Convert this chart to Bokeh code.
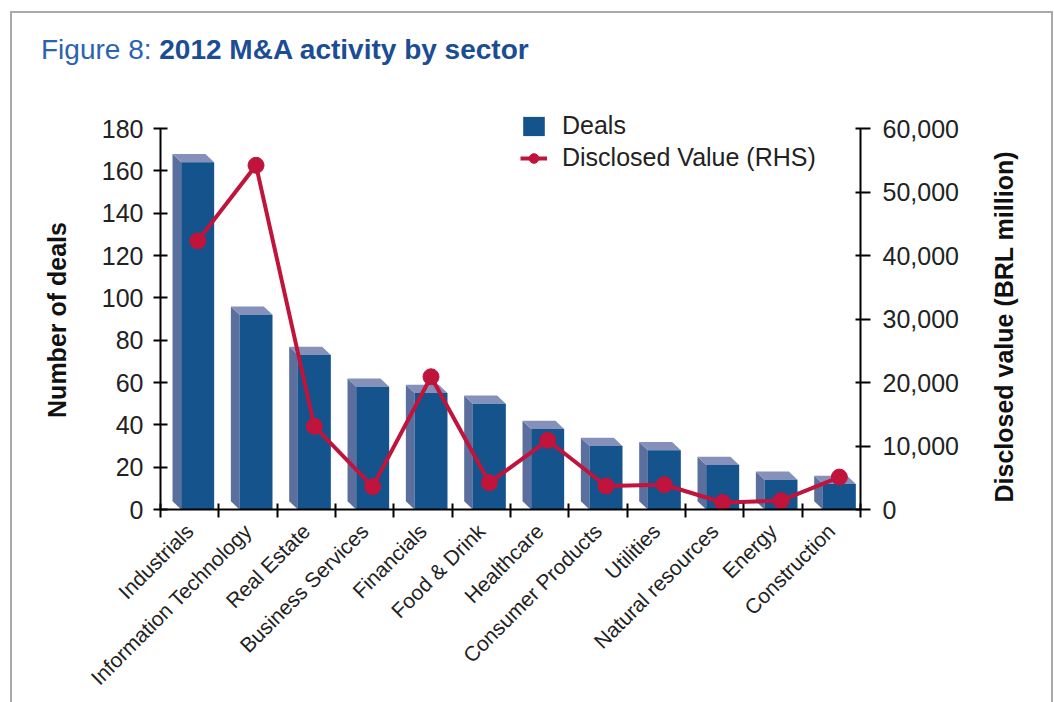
import math
from bokeh.plotting import figure
from bokeh.layouts import column, row
from bokeh.models import (Range1d, LinearAxis, FixedTicker, NumeralTickFormatter,
                          Legend, LegendItem, ColumnDataSource, Div)
from bokeh.embed import file_html
from bokeh.resources import INLINE

# ---------------- data ----------------
sectors = ["Industrials", "Information Technology", "Real Estate", "Business Services",
           "Financials", "Food & Drink", "Healthcare", "Consumer Products", "Utilities",
           "Natural resources", "Energy", "Construction"]
deals = [164, 92, 73, 58, 55, 50, 38, 30, 28, 21, 14, 12]
disclosed_value = [42300, 54200, 13100, 3600, 20900, 4200, 10900, 3700, 3900, 1100, 1400, 5100]
left_ticks = [0, 20, 40, 60, 80, 100, 120, 140, 160, 180]
right_ticks = [0, 10000, 20000, 30000, 40000, 50000, 60000]
title_light = "Figure 8:"
title_bold = "2012 M&A activity by sector"
left_title = "Number of deals"
right_title = "Disclosed value (BRL million)"

# ---------------- style ----------------
FONT = "Liberation Sans"
FRONT = "#14538b"
SIDE = "#5b6f9f"
TOP = "#8591ba"
LINE = "#c0143c"
FRONT_OFF = 0.1375   # front face centre offset from category centre
FRONT_W = 0.565
DX = 0.149           # 3D depth (category units)
DY = 3.9             # 3D depth (deal units)

idx = list(range(len(sectors)))
xc = [i + FRONT_OFF for i in idx]
x0 = [c - FRONT_W / 2 for c in xc]
x1 = [c + FRONT_W / 2 for c in xc]

side_xs = [[a, a, a - DX, a - DX] for a in x0]
side_ys = [[0, v, v + DY, DY] for v in deals]
top_xs = [[a, b, b - DX, a - DX] for a, b in zip(x0, x1)]
top_ys = [[v, v, v + DY, v + DY] for v in deals]

# layout geometry (pixels)
CW = 1039            # inner content width
DIV_H = 80
FIG_H = 609
LW, FW, RW = 60, 903, 76
MB_LEFT, MB_RIGHT = 88, 115
MB_TOP, MB_BOT = 5, 193
FRAME_H = FIG_H - MB_TOP - MB_BOT     # 381 px correspond to 0..180
Y_END = 180 * FRAME_H / 381
R_END = 60000 * FRAME_H / 381

p = figure(width=FW, height=FIG_H, x_range=Range1d(-0.5, 11.5), y_range=Range1d(0, Y_END),
           output_backend="svg", toolbar_location=None, title=None,
           min_border_left=MB_LEFT, min_border_right=MB_RIGHT, min_border_top=MB_TOP,
           min_border_bottom=MB_BOT)
p.extra_y_ranges = {"val": Range1d(0, R_END)}
p.xgrid.visible = False
p.ygrid.visible = False
p.outline_line_color = None
p.background_fill_color = "white"
p.border_fill_color = "white"
p.margin = 0

# bars (3D look)
p.patches(xs=side_xs, ys=side_ys, fill_color=SIDE, line_color=None)
p.patches(xs=top_xs, ys=top_ys, fill_color=TOP, line_color=None)
src = ColumnDataSource(dict(x=xc, top=deals))
front = p.vbar(x="x", top="top", bottom=0, width=FRONT_W, source=src,
               fill_color=FRONT, line_color=None)

# line (RHS)
lsrc = ColumnDataSource(dict(x=xc, y=disclosed_value))
ln = p.line(x="x", y="y", source=lsrc, y_range_name="val", line_color=LINE, line_width=4)
sc = p.scatter(x="x", y="y", source=lsrc, y_range_name="val", size=16,
               fill_color=LINE, line_color=LINE)

# left axis
ya = p.yaxis[0]
ya.ticker = FixedTicker(ticks=left_ticks)
ya.bounds = (0, 180)
ya.major_label_text_font = FONT
ya.major_label_text_font_size = "25px"
ya.major_label_text_color = "#222222"
ya.major_label_standoff = 10
ya.major_tick_in = 7
ya.major_tick_out = 7
ya.minor_tick_line_color = None
ya.axis_line_width = 2
ya.major_tick_line_width = 2
ya.axis_line_color = "black"
ya.major_tick_line_color = "black"

# right axis
ra = LinearAxis(y_range_name="val", ticker=FixedTicker(ticks=right_ticks),
                formatter=NumeralTickFormatter(format="0,0"), bounds=(0, 60000))
ra.major_label_text_font = FONT
ra.major_label_text_font_size = "25px"
ra.major_label_text_color = "#222222"
ra.major_label_standoff = 12
ra.major_tick_in = 5
ra.major_tick_out = 10
ra.minor_tick_line_color = None
ra.axis_line_width = 2
ra.major_tick_line_width = 2
p.add_layout(ra, "right")

# bottom axis
xa = p.xaxis[0]
xa.ticker = FixedTicker(ticks=idx, minor_ticks=[i - 0.5 for i in range(len(sectors) + 1)])
xa.major_label_overrides = {i: s for i, s in zip(idx, sectors)}
xa.major_label_orientation = math.pi / 4
xa.major_label_text_font = FONT
xa.major_label_text_font_size = "21px"
xa.major_label_text_color = "#222222"
xa.major_tick_in = 0
xa.major_tick_out = 0
xa.major_label_standoff = 10
xa.minor_tick_in = 6
xa.minor_tick_out = 8
xa.minor_tick_line_width = 2
xa.minor_tick_line_color = "black"
xa.axis_line_width = 2
xa.axis_line_color = "black"

# legend
legend = Legend(items=[LegendItem(label="Deals", renderers=[front]),
                       LegendItem(label="Disclosed Value (RHS)", renderers=[ln, sc])],
                location=(360, 337), orientation="vertical",
                glyph_width=27, glyph_height=24, label_standoff=15, spacing=3,
                padding=0, margin=0, border_line_color=None, background_fill_alpha=0,
                label_text_font=FONT, label_text_font_size="25px", label_text_color="#222222")
p.add_layout(legend)

# title (HTML text above the plot)
title_html = (
    f'<div style="padding:23px 0 0 29px; font-family:\'{FONT}\'; font-size:28px; '
    f'line-height:28px; white-space:nowrap;">'
    f'<span style="color:#2b63b1;">{title_light}</span> '
    f'<span style="color:#1b4d95; font-weight:bold;">{title_bold.replace("&", "&amp;")}</span></div>'
)
title = Div(text=title_html, width=CW, height=DIV_H, margin=0)


def vertical_title(text, cx, cy, w):
    html = (
        f'<div style="position:relative; width:{w}px; height:{FIG_H}px;">'
        f'<div style="position:absolute; left:{cx}px; top:{cy}px; '
        f'transform:translate(-50%,-50%) rotate(180deg); writing-mode:vertical-rl; '
        f'white-space:nowrap; font-family:\'{FONT}\'; font-size:25px; font-weight:bold; '
        f'line-height:25px; color:#111111;">{text}</div></div>'
    )
    return Div(text=html, width=w, height=FIG_H, margin=0)


ldiv = vertical_title(left_title, 45, 227, LW)
rdiv = vertical_title(right_title, 29, 234, RW)

body = row(ldiv, p, rdiv, spacing=0, margin=0)
layout = column(title, body, spacing=0, margin=(11, 0, 0, 10), width=CW + 4,
                height=DIV_H + FIG_H + 2,
                styles={"border-top": "2px solid #a9a9a9", "border-left": "2px solid #a9a9a9",
                        "border-right": "2px solid #a9a9a9", "box-sizing": "border-box",
                        "background": "white"})

open("out.html", "w").write(file_html(layout, INLINE))
